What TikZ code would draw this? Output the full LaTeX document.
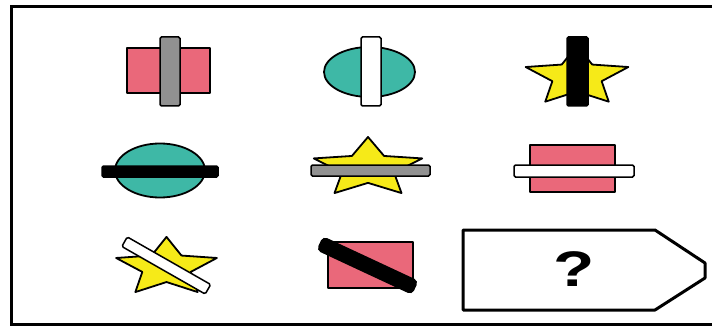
\documentclass[tikz,border=0pt]{standalone}
\usepackage{fontspec}
\setmainfont{Liberation Sans}
\definecolor{pinkc}{RGB}{234,104,122}
\definecolor{tealc}{RGB}{62,184,166}
\definecolor{yelc}{RGB}{246,234,24}
\definecolor{grayc}{RGB}{145,145,145}
\tikzset{
  shapeline/.style={draw=black, line width=1.8pt, line join=round},
  barline/.style={draw=black, line width=1.5pt, rounded corners=1.5pt},
  frameline/.style={draw=black, line width=3pt},
}
\newcommand{\mystar}[4]{% cx, cy, rx, ry
  \draw[shapeline, fill=yelc, shift={(#1,#2)}, xscale=#3, yscale=-#4]
    (90:1) -- (126:0.48) -- (162:1) -- (198:0.48) -- (234:1) -- (270:0.48)
    -- (306:1) -- (342:0.48) -- (18:1) -- (54:0.48) -- cycle;}
\begin{document}
\begin{tikzpicture}[x=1pt,y=-1pt]
\useasboundingbox (0,0) rectangle (712,326);
\fill[white] (0,0) rectangle (712,326);
% outer frame
\draw[frameline] (712,7) -- (11,7) -- (11,324) -- (712,324);
% row 1
\draw[shapeline, fill=pinkc] (127,48) rectangle (210,93);
\draw[barline, fill=grayc] (160,37) rectangle (180,106);
\draw[shapeline, fill=tealc] (369.5,72) ellipse [x radius=45.5, y radius=25];
\draw[barline, fill=white] (361,37) rectangle (381,106);
\mystar{577}{76.6}{54}{31}
\draw[barline, fill=black] (567,37) rectangle (588,106);
% row 2
\draw[shapeline, fill=tealc] (160,170.5) ellipse [x radius=45, y radius=27];
\draw[barline, fill=black] (102,166) rectangle (218,177);
\mystar{368}{168}{57}{31}
\draw[barline, fill=grayc] (311,165) rectangle (430,176);
\draw[shapeline, fill=pinkc] (530,145) rectangle (615,192);
\draw[barline, fill=white] (514,165) rectangle (634,177);
% row 3
\mystar{166.5}{267.4}{53}{30.5}
\draw[barline, fill=white, shift={(166.25,265.5)}, rotate=-29.7] (-48,-5.5) rectangle (48,5.5);
\draw[shapeline, fill=pinkc] (328,242) rectangle (413,288);
\draw[barline, fill=black, rounded corners=4pt, shift={(367.5,265.5)}, rotate=-25] (-52,-7) rectangle (52,7);
% question box
\draw[shapeline, line width=3pt] (463,230) -- (655,230) -- (705,263) -- (705,278) -- (655,310) -- (463,310) -- cycle;
\node[xscale=1.35] (q) at (574,269) {\fontsize{50}{50}\selectfont\bfseries ?};
\end{tikzpicture}
\end{document}
